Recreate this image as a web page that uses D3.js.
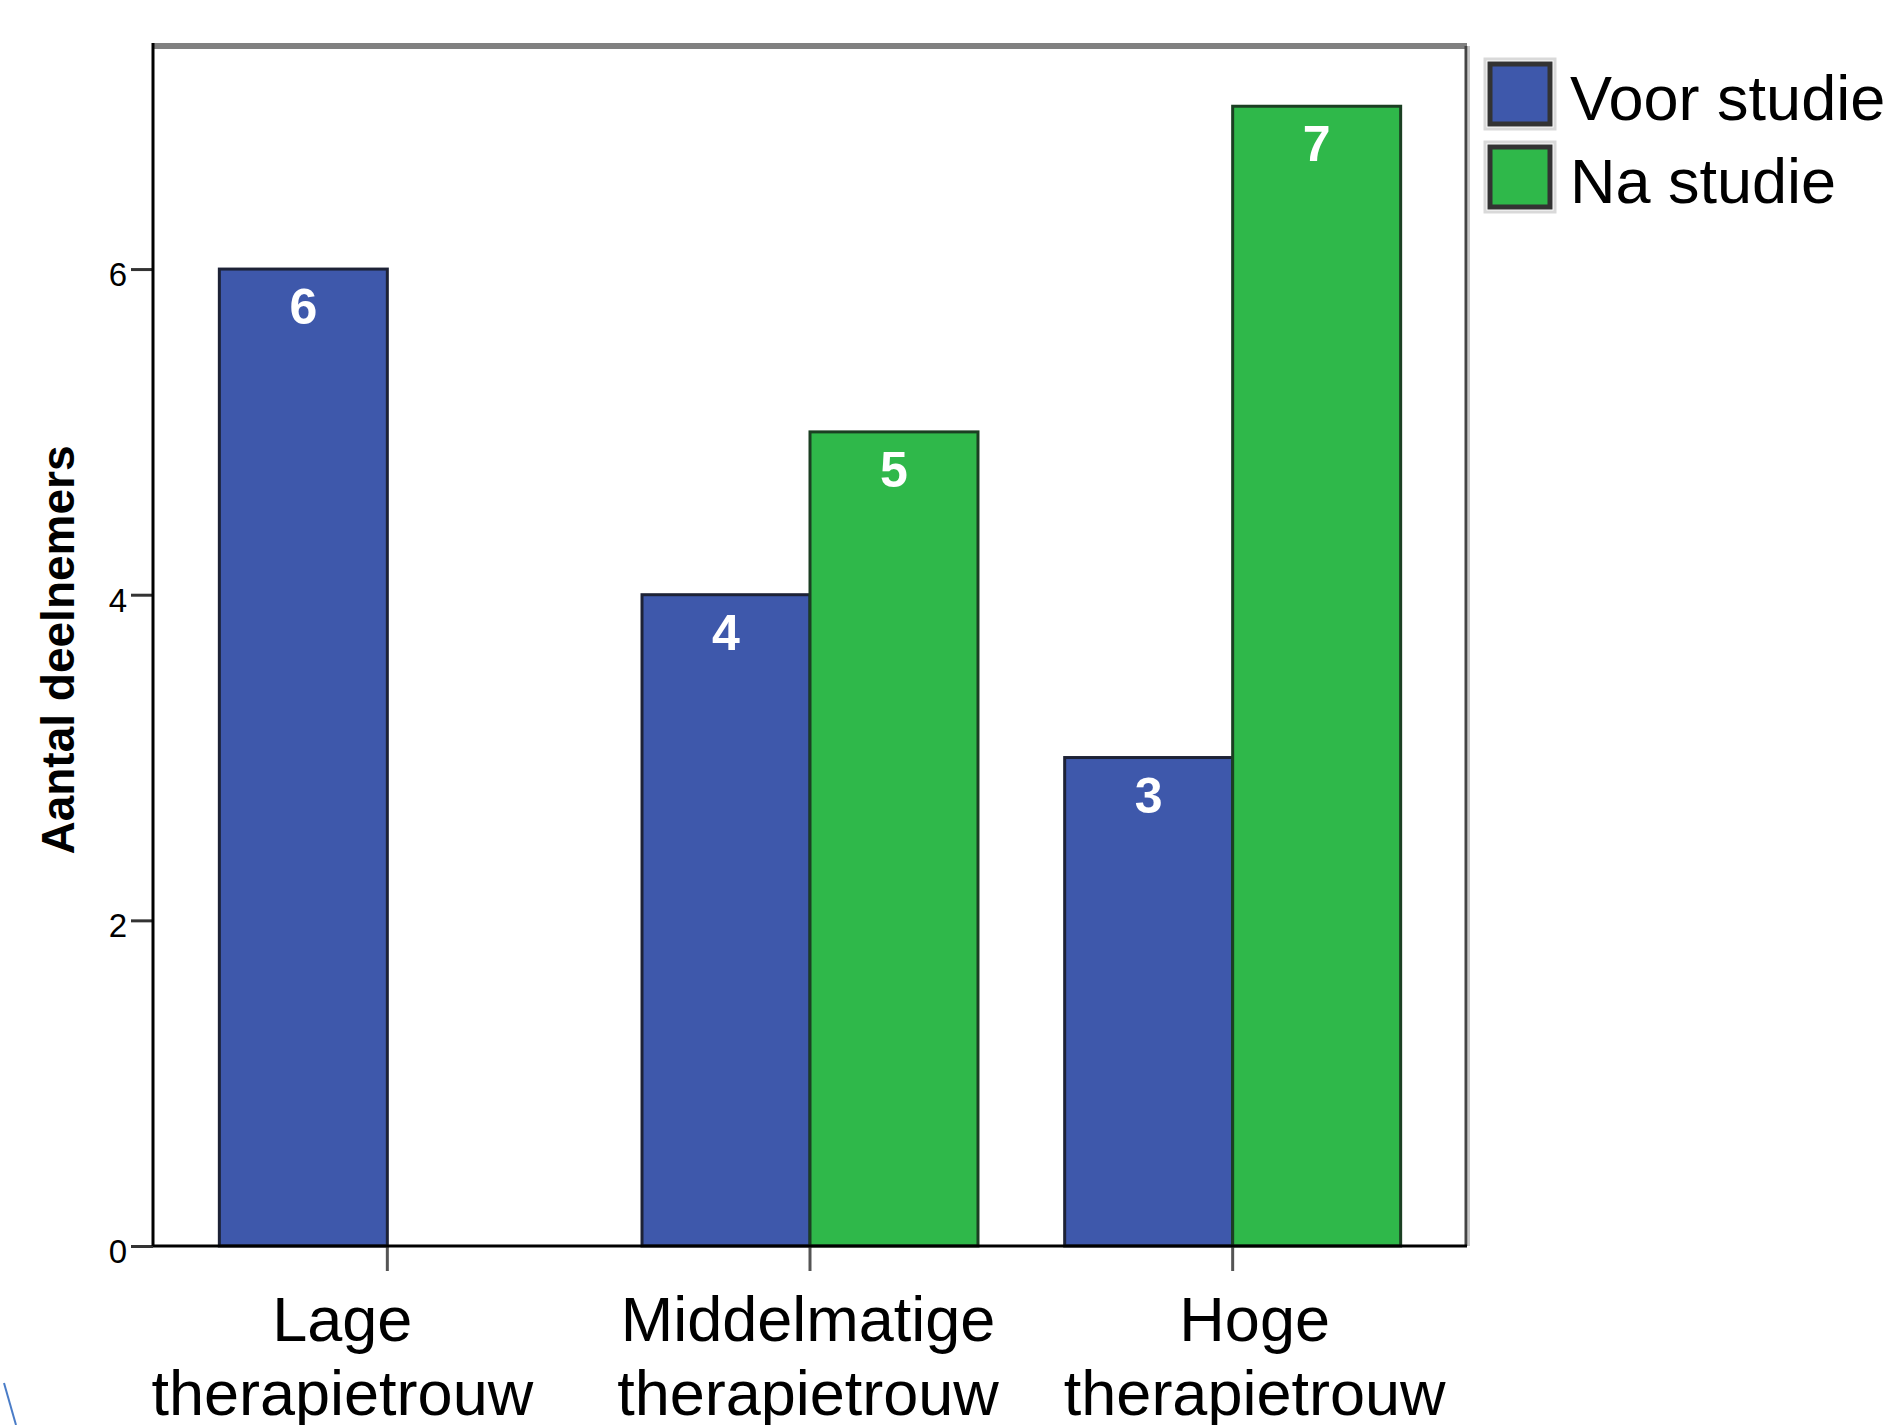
<!DOCTYPE html>
<html>
<head>
<meta charset="utf-8">
<script src="https://cdn.jsdelivr.net/npm/d3@7"></script>
<style>
  body { margin: 0; background: #fff; }
  text { font-family: "Liberation Sans", Arial, sans-serif; }
</style>
</head>
<body>
<div id="chart"></div>
<script>
// data
const categories = ["Lage therapietrouw", "Middelmatige therapietrouw", "Hoge therapietrouw"];
const categoryLines = [["Lage", "therapietrouw"], ["Middelmatige", "therapietrouw"], ["Hoge", "therapietrouw"]];
const series = ["Voor studie", "Na studie"];
const voorValues = [6, 4, 3];
const naValues = [0, 5, 7];
const yTicks = [0, 2, 4, 6];

const colors = { "Voor studie": "#3e58ab", "Na studie": "#2fb84a" };
const strokes = { "Voor studie": "#1d2236", "Na studie": "#1b3f22" };

// label shifts seen in the picture (labels are not exactly under their ticks)
const labelShift = [-45, -2, 22];

const W = 1885, H = 1425;
const plot = { left: 153, right: 1467, top: 46, bottom: 1246 };

const svg = d3.select("#chart").append("svg")
  .attr("width", W).attr("height", H);

svg.append("rect").attr("width", W).attr("height", H).attr("fill", "#fff");

const x = d3.scaleBand()
  .domain(categories)
  .range([plot.left + 23, plot.right - 23])
  .padding(0);

const xInner = d3.scaleBand()
  .domain(series)
  .range([0, x.bandwidth()])
  .paddingInner(0)
  .paddingOuter(0.258);

const y = d3.scaleLinear()
  .domain([0, 7.37])
  .range([plot.bottom, plot.top]);

const rows = [];
categories.forEach((c, i) => {
  rows.push({ cat: c, s: "Voor studie", v: voorValues[i] });
  rows.push({ cat: c, s: "Na studie", v: naValues[i] });
});
const shown = rows.filter(d => d.v > 0);

// frame: top gray, right dark gray
svg.append("line")
  .attr("x1", plot.left).attr("x2", plot.right)
  .attr("y1", plot.top).attr("y2", plot.top)
  .attr("stroke", "#808080").attr("stroke-width", 6);
svg.append("line")
  .attr("x1", plot.right + 2).attr("x2", plot.right + 2)
  .attr("y1", plot.top).attr("y2", plot.bottom)
  .attr("stroke", "#c8c8c8").attr("stroke-width", 2);
svg.append("line")
  .attr("x1", plot.right - 1).attr("x2", plot.right - 1)
  .attr("y1", plot.top).attr("y2", plot.bottom)
  .attr("stroke", "#444").attr("stroke-width", 3);

// bars
const g = svg.append("g");
g.selectAll("rect.bar")
  .data(shown)
  .enter().append("rect")
  .attr("class", "bar")
  .attr("x", d => x(d.cat) + xInner(d.s))
  .attr("y", d => y(d.v))
  .attr("width", xInner.bandwidth())
  .attr("height", d => y(0) - y(d.v))
  .attr("fill", d => colors[d.s])
  .attr("stroke", d => strokes[d.s])
  .attr("stroke-width", 3);

// value labels
g.selectAll("text.val")
  .data(shown)
  .enter().append("text")
  .attr("class", "val")
  .attr("x", d => x(d.cat) + xInner(d.s) + xInner.bandwidth() / 2)
  .attr("y", d => y(d.v) + 55)
  .attr("text-anchor", "middle")
  .style("font-size", "50px")
  .style("font-weight", "700")
  .style("fill", "#fff")
  .text(d => d.v);

// y axis
const yAxis = svg.append("g")
  .attr("transform", `translate(${plot.left},0)`)
  .call(d3.axisLeft(y).tickValues(yTicks).tickSize(22).tickPadding(4).tickFormat(d3.format("d")));
yAxis.select(".domain").remove();
yAxis.selectAll(".tick line").attr("stroke", "#333").attr("stroke-width", 3);
yAxis.selectAll(".tick text")
  .attr("dy", "0.5em")
  .style("font-size", "33px")
  .style("fill", "#000");

svg.append("line")
  .attr("x1", plot.left).attr("x2", plot.left)
  .attr("y1", plot.top - 3).attr("y2", plot.bottom)
  .attr("stroke", "#000").attr("stroke-width", 3);

// x axis
const xAxis = svg.append("g")
  .attr("transform", `translate(0,${plot.bottom})`)
  .call(d3.axisBottom(x).tickSize(25).tickFormat(""));
xAxis.select(".domain").remove();
xAxis.selectAll(".tick line").attr("stroke", "#555").attr("stroke-width", 3);

svg.append("line")
  .attr("x1", plot.left).attr("x2", plot.right)
  .attr("y1", plot.bottom).attr("y2", plot.bottom)
  .attr("stroke", "#000").attr("stroke-width", 3);

// category labels (bottom line is cut by the picture edge, as in the source)
const catLabels = svg.append("g").selectAll("text.cat")
  .data(categories)
  .enter().append("text")
  .attr("class", "cat")
  .attr("text-anchor", "middle")
  .style("font-size", "63px")
  .style("fill", "#000");
catLabels.each(function(c, i) {
  const cx = x(c) + x.bandwidth() / 2 + labelShift[i];
  categoryLines[i].forEach((line, j) => {
    d3.select(this).append("tspan")
      .attr("x", cx)
      .attr("y", 1341 + j * 74)
      .text(line);
  });
});

// y axis title
svg.append("text")
  .attr("transform", "translate(74,650) rotate(-90)")
  .attr("text-anchor", "middle")
  .style("font-size", "46px")
  .style("font-weight", "700")
  .style("fill", "#000")
  .text("Aantal deelnemers");

// legend
const legend = svg.append("g").attr("transform", "translate(1488,62)");
const items = legend.selectAll("g")
  .data(series)
  .enter().append("g")
  .attr("transform", (d, i) => `translate(0,${i * 83})`);
items.append("rect")
  .attr("x", -3).attr("y", -3).attr("width", 70).attr("height", 70)
  .attr("fill", "none").attr("stroke", "#d9d9d9").attr("stroke-width", 3);
items.append("rect")
  .attr("x", 2).attr("y", 2).attr("width", 60).attr("height", 60)
  .attr("fill", d => colors[d])
  .attr("stroke", "#333").attr("stroke-width", 5);
items.append("text")
  .attr("x", 82).attr("y", 58)
  .style("font-size", "63px")
  .style("fill", "#000")
  .text(d => d);

// stray blue stroke in the lower left corner of the picture
svg.append("line")
  .attr("x1", 4).attr("y1", 1383).attr("x2", 16).attr("y2", 1425)
  .attr("stroke", "#4a7cc7").attr("stroke-width", 2);
</script>
</body>
</html>
